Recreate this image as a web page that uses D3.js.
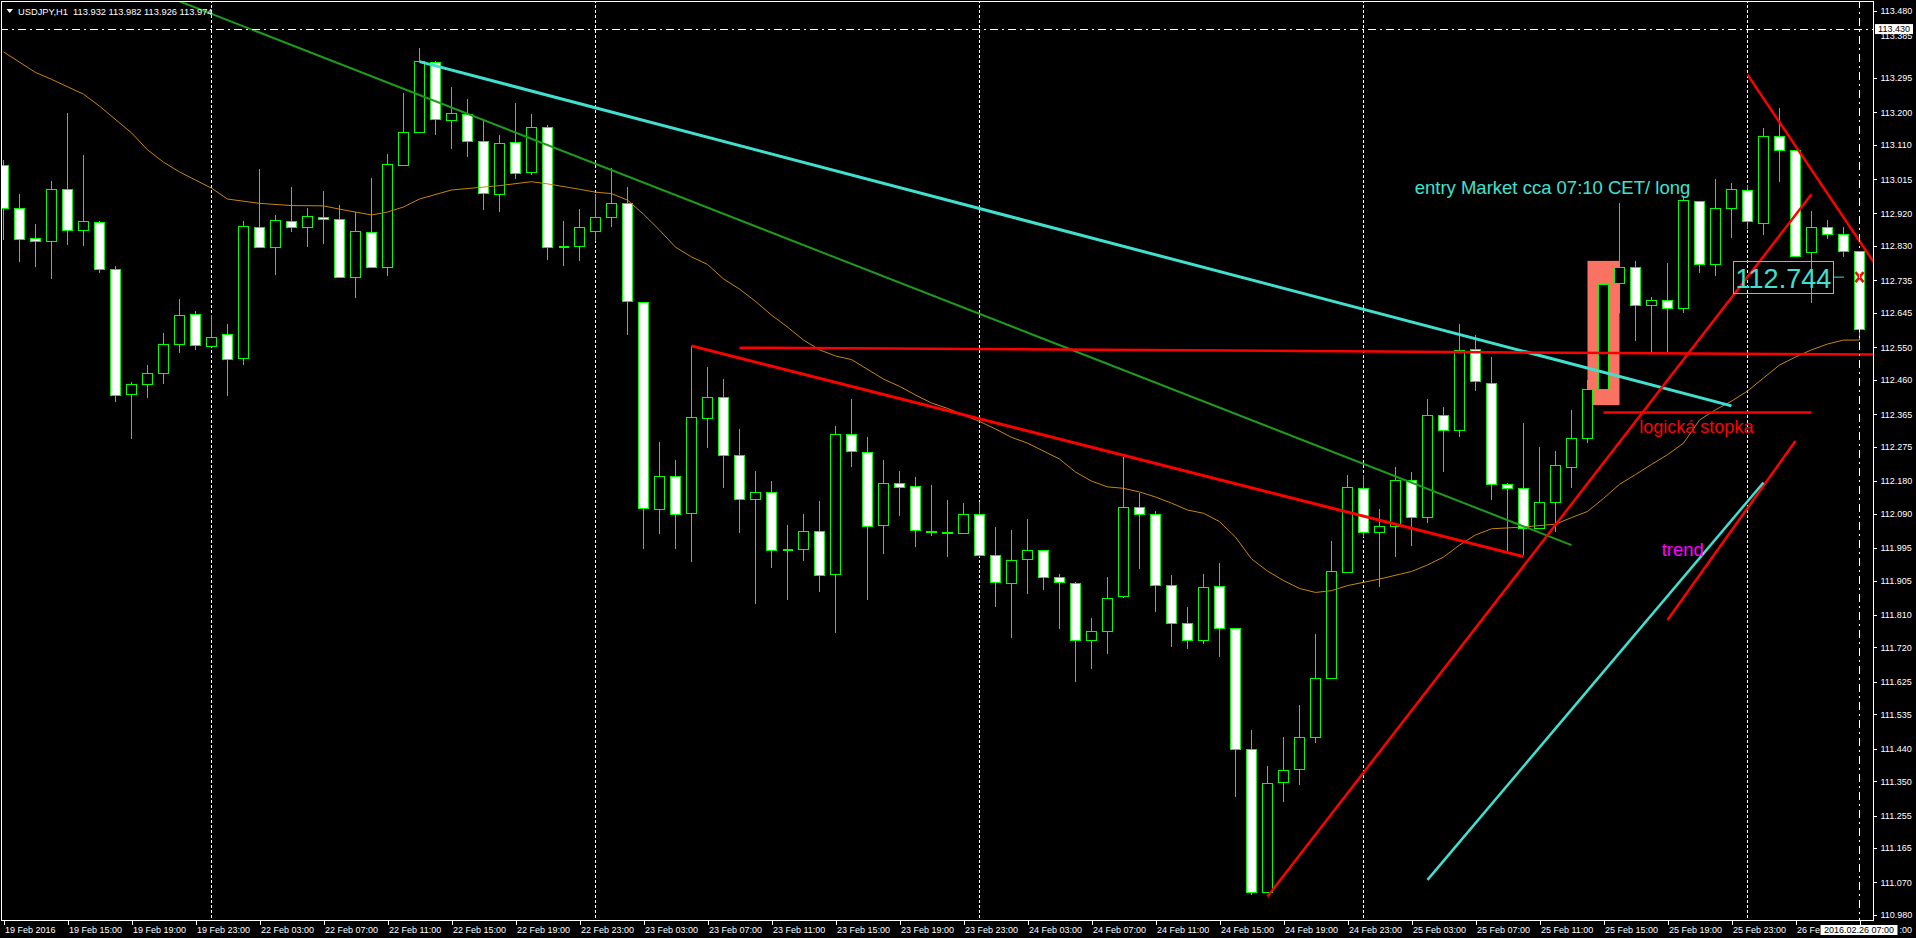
<!DOCTYPE html>
<html><head><meta charset="utf-8">
<script src="https://cdn.jsdelivr.net/npm/d3@7"></script>
<style>
html,body{margin:0;padding:0;background:#000;overflow:hidden}
svg{display:block}
text{font-family:"Liberation Sans",Arial,sans-serif}
</style></head><body>
<svg id="c" width="1916" height="938"></svg>
<script>
// ---- DATA (USDJPY H1, bar index 0 = 19 Feb 2016 11:00) ----
const openP=[113.054,112.934,112.851,112.843,112.987,112.874,112.896,112.767,112.420,112.448,
112.478,112.558,112.641,112.553,112.586,112.519,112.884,112.826,112.900,112.882,
112.911,112.906,112.745,112.868,112.773,113.055,113.145,113.340,113.178,113.194,
113.120,112.973,113.117,113.034,113.158,112.829,112.829,112.871,112.909,112.948,
112.674,112.104,112.193,112.091,112.354,112.413,112.251,112.130,112.149,111.993,
111.993,112.041,111.922,112.309,112.261,112.058,112.174,112.166,112.043,112.038,
112.036,112.088,111.975,111.897,111.964,111.989,111.914,111.897,111.740,111.765,
111.861,112.107,112.088,111.892,111.787,111.740,111.889,111.773,111.438,111.043,
111.347,111.383,111.472,111.636,111.929,112.160,112.038,112.055,112.182,112.080,
112.363,112.321,112.544,112.452,112.172,112.160,112.049,112.123,112.220,112.298,
112.434,112.727,112.771,112.666,112.680,112.660,112.955,112.779,112.934,112.984,
112.893,113.134,113.096,112.813,112.882,112.862,112.815];
const highP=[113.068,112.974,112.891,113.010,113.197,113.081,112.898,112.774,112.454,112.501,
112.590,112.684,112.650,112.638,112.614,112.898,113.043,112.916,112.993,112.936,
112.982,112.944,112.925,113.018,113.085,113.253,113.378,113.343,113.270,113.237,
113.179,113.136,113.226,113.195,113.164,112.899,112.932,112.975,113.045,112.992,
112.674,112.287,112.237,112.554,112.496,112.462,112.323,112.208,112.180,112.059,
112.089,112.125,112.332,112.407,112.302,112.237,112.207,112.191,112.169,112.128,
112.119,112.121,112.052,112.045,112.075,111.989,111.923,111.900,111.801,111.914,
112.247,112.146,112.096,111.919,111.831,111.922,111.953,111.773,111.492,111.392,
111.472,111.560,111.757,112.014,112.197,112.197,112.103,112.218,112.204,112.406,
112.386,112.614,112.584,112.522,112.174,112.340,112.273,112.263,112.377,112.460,
112.789,112.948,112.789,112.690,112.784,112.968,112.955,113.015,113.005,112.999,
113.157,113.213,113.096,112.927,112.902,112.884,112.815];
const lowP=[112.847,112.787,112.773,112.740,112.833,112.830,112.756,112.400,112.297,112.411,
112.448,112.533,112.543,112.550,112.416,112.502,112.826,112.751,112.870,112.828,
112.837,112.743,112.687,112.769,112.748,113.055,113.145,113.138,113.097,113.077,
112.930,112.925,113.016,113.027,112.791,112.776,112.790,112.843,112.884,112.583,
111.991,112.035,111.993,111.957,112.272,112.162,112.037,111.841,111.941,111.852,
111.960,111.874,111.761,112.220,111.852,111.979,112.084,111.997,112.028,111.969,
112.036,111.971,111.831,111.745,111.869,111.880,111.772,111.623,111.661,111.701,
111.858,111.938,111.817,111.720,111.717,111.729,111.694,111.305,111.034,111.040,
111.293,111.340,111.457,111.634,111.927,112.026,111.886,111.971,112.000,112.063,
112.206,112.301,112.430,112.128,111.987,111.976,112.049,112.040,112.160,112.286,
112.390,112.646,112.568,112.538,112.538,112.646,112.756,112.748,112.851,112.876,
112.861,113.008,112.801,112.672,112.850,112.801,112.570];
const closeP=[112.934,112.849,112.843,112.987,112.874,112.898,112.766,112.417,112.448,112.478,
112.558,112.638,112.555,112.578,112.517,112.886,112.828,112.901,112.882,112.912,
112.906,112.745,112.871,112.773,113.056,113.145,113.341,113.180,113.197,113.120,
112.976,113.114,113.031,113.158,112.826,112.829,112.882,112.909,112.948,112.677,
112.105,112.193,112.088,112.356,112.412,112.251,112.130,112.149,111.989,111.992,
112.041,111.919,112.309,112.263,112.055,112.174,112.163,112.045,112.039,112.037,
112.088,111.975,111.900,111.961,111.989,111.914,111.900,111.740,111.765,111.858,
112.107,112.088,111.892,111.787,111.740,111.886,111.773,111.438,111.043,111.344,
111.382,111.472,111.635,111.932,112.163,112.038,112.055,112.182,112.080,112.363,
112.321,112.543,112.457,112.172,112.160,112.049,112.123,112.224,112.298,112.436,
112.724,112.771,112.666,112.680,112.660,112.957,112.779,112.934,112.987,112.899,
113.134,113.096,112.803,112.882,112.862,112.815,112.600];

// moving average (bar index, price)
const maIdx=[0,2,3,5,6,8,9,10,11,13,14,16,18,20,21,23,24,25,26,28,30,31,33,34,36,37,38,39,40,41,42,43,44,45,46,47,48,49,50,51,52,53,55,56,57,58,59,60,61,62,63,64,66,67,68,69,70,71,72,73,74,75,76,77,78,79,80,81,82,83,84,86,88,89,90,91,92,93,95,97,98,99,100,101,102,103,104,105,106,107,108,109,110,111,112,113,114,115,116];
const maVal=[113.367,113.310,113.291,113.250,113.217,113.143,113.096,113.062,113.035,112.990,112.960,112.948,112.942,112.941,112.932,112.916,112.924,112.938,112.960,112.985,112.993,112.997,113.008,113.002,112.987,112.979,112.975,112.957,112.918,112.874,112.827,112.800,112.779,112.739,112.711,112.677,112.639,112.606,112.570,112.543,112.526,112.516,112.462,112.442,112.418,112.396,112.381,112.363,112.345,112.324,112.301,112.285,112.241,112.205,112.180,112.164,112.160,112.150,112.136,112.119,112.100,112.091,112.068,112.025,111.965,111.931,111.905,111.883,111.872,111.877,111.891,111.909,111.930,111.948,111.970,112.003,112.031,112.048,112.053,112.061,112.079,112.096,112.132,112.171,112.198,112.226,112.253,112.285,112.349,112.377,112.401,112.429,112.465,112.501,112.523,112.543,112.559,112.570,112.570];

const priceTicks=[113.480,113.385,113.295,113.200,113.110,113.015,112.920,112.830,112.735,112.645,112.550,112.460,112.365,112.275,112.180,112.090,111.995,111.905,111.810,111.720,111.625,111.535,111.440,111.350,111.255,111.165,111.070,110.980];
const timeTickIdx=[0,4,8,12,16,20,24,28,32,36,40,44,48,52,56,60,64,68,72,76,80,84,88,92,96,100,104,108,112,116];
const timeLabels=["19 Feb 2016","19 Feb 15:00","19 Feb 19:00","19 Feb 23:00","22 Feb 03:00","22 Feb 07:00","22 Feb 11:00","22 Feb 15:00","22 Feb 19:00","22 Feb 23:00","23 Feb 03:00","23 Feb 07:00","23 Feb 11:00","23 Feb 15:00","23 Feb 19:00","23 Feb 23:00","24 Feb 03:00","24 Feb 07:00","24 Feb 11:00","24 Feb 15:00","24 Feb 19:00","24 Feb 23:00","25 Feb 03:00","25 Feb 07:00","25 Feb 11:00","25 Feb 15:00","25 Feb 19:00","25 Feb 23:00","26 Fe",""];
const separatorIdx=[13,37,61,85,109];

// drawn objects: [barIndex, price] end points
const greenLine=[[10,113.524],[98,112.003]];
const cyanDownLine=[[26,113.340],[108,112.388]];
const redLevelLine=[[46,112.549],[116.9,112.530]];
const redDownLine=[[43,112.554],[95,111.971]];
const redUpLine=[[79,111.031],[113,112.973]];
const redRightDownLine=[[109,113.304],[117,112.778]];
const redShortUpLine=[[104,111.796],[112,112.291]];
const cyanUpLine=[[89,111.077],[110,112.176]];
const stopLine=[[100,112.370],[113,112.370]];
const entryRect=[[99,112.789],[101,112.390]];
const entryNote=[88.2,112.974,"entry Market cca 07:10 CET/ long"];
const stopNote=[102.24,112.314,"logická stopka"];
const trendNote=[103.64,111.973,"trend"];
const priceLabel=[108.1,114.4,112.744,"112.744"];
const crossPrice=113.430, crossIdx=116, crossDate="2016.02.26 07:00", crossDateTail=":00";
const header="USDJPY,H1  113.932 113.982 113.926 113.974";

// ---- DRAW ----
const svg=d3.select('#c');
svg.append('rect').attr('width',1916).attr('height',938).attr('fill','#000');
const x=d3.scaleLinear().domain([0,116]).range([3.5,1859.5]);
const y=d3.scaleLinear().domain([110.980,113.480]).range([915,11]);

svg.append('defs').append('clipPath').attr('id','plot').append('rect')
  .attr('x',2).attr('y',2).attr('width',1871).attr('height',918);
const plot=svg.append('g').attr('clip-path','url(#plot)');

plot.selectAll('line.sep').data(separatorIdx).join('line').attr('class','sep')
  .attr('x1',d=>x(d)).attr('x2',d=>x(d)).attr('y1',0).attr('y2',920)
  .attr('stroke','#fff').attr('stroke-dasharray','3,2').attr('shape-rendering','crispEdges');

plot.append('rect')
  .attr('x',x(entryRect[0][0])).attr('y',y(entryRect[0][1]))
  .attr('width',x(entryRect[1][0])-x(entryRect[0][0]))
  .attr('height',y(entryRect[1][1])-y(entryRect[0][1]))
  .attr('fill','#f97262');

const cg=plot.append('g').attr('shape-rendering','crispEdges');
const bars=d3.range(openP.length);
cg.selectAll('line.w').data(bars).join('line').attr('class','w')
  .attr('x1',i=>x(i)).attr('x2',i=>x(i))
  .attr('y1',i=>Math.round(y(highP[i]))).attr('y2',i=>Math.round(y(lowP[i])))
  .attr('stroke','#00ff00');
bars.forEach(i=>{
  const o=openP[i],c=closeP[i];
  const t=Math.round(y(Math.max(o,c)))+0.5, b=Math.round(y(Math.min(o,c)))+0.5;
  if(b-t<1){
    cg.append('line').attr('x1',x(i)-5).attr('x2',x(i)+5).attr('y1',t).attr('y2',t)
      .attr('stroke','#00ff00').attr('stroke-width',2);
  } else {
    cg.append('rect').attr('x',x(i)-5).attr('y',t).attr('width',10).attr('height',b-t)
      .attr('fill',o>c?'#fff':'#000').attr('stroke','#00ff00');
  }
});

plot.append('path').datum(maIdx.map((d,k)=>[d,maVal[k]]))
  .attr('d',d3.line().x(d=>x(d[0])).y(d=>y(d[1])))
  .attr('fill','none').attr('stroke','#c8860b').attr('stroke-width',1);

const lines=[
  [greenLine,'#1f9a1f',2],
  [cyanDownLine,'#40e0d0',3],
  [redLevelLine,'#ff0000',2.5],
  [redDownLine,'#ff0000',3],
  [redUpLine,'#ff0000',2.5],
  [redRightDownLine,'#ff0000',2.5],
  [redShortUpLine,'#ff0000',2.5],
  [cyanUpLine,'#40e0d0',2.5],
  [stopLine,'#ff0000',2.5]
];
lines.forEach(([pts,col,w])=>{
  plot.append('line').attr('x1',x(pts[0][0])).attr('y1',y(pts[0][1]))
    .attr('x2',x(pts[1][0])).attr('y2',y(pts[1][1]))
    .attr('stroke',col).attr('stroke-width',w);
});

plot.append('text').attr('x',x(entryNote[0])).attr('y',y(entryNote[1]))
  .attr('fill','#40e0d0').attr('font-size','18.5px').text(entryNote[2]);
plot.append('text').attr('x',x(stopNote[0])).attr('y',y(stopNote[1]))
  .attr('fill','#ff0000').attr('font-size','18px').text(stopNote[2]);
plot.append('text').attr('x',x(trendNote[0])).attr('y',y(trendNote[1]))
  .attr('fill','#ff00ff').attr('font-size','18.5px').text(trendNote[2]);

// price label object 112.744
const pl=priceLabel;
const plY=y(pl[2]);
plot.append('rect').attr('x',x(pl[0])).attr('y',plY-15.5).attr('width',x(pl[1])-x(pl[0])).attr('height',32)
  .attr('fill','none').attr('stroke','#40e0d0').attr('shape-rendering','crispEdges');
plot.append('text').attr('x',x(pl[0])+2.5).attr('y',plY+11).attr('fill','#40e0d0')
  .attr('font-size','27px').text(pl[3]);
plot.append('line').attr('x1',x(pl[1])).attr('x2',x(pl[1])+10).attr('y1',plY).attr('y2',plY)
  .attr('stroke','#40e0d0');
const mx=x(crossIdx), my=plY;
plot.append('path').attr('d',`M${mx-4},${my-5}L${mx+4},${my+5}M${mx+4},${my-5}L${mx-4},${my+5}`)
  .attr('stroke','#ff0000').attr('stroke-width',2.5);

// crosshair
plot.append('line').attr('x1',0).attr('x2',1873).attr('y1',Math.round(y(crossPrice))+0.5).attr('y2',Math.round(y(crossPrice))+0.5)
  .attr('stroke','#fff').attr('stroke-dasharray','8,4,2,4').attr('shape-rendering','crispEdges');
plot.append('line').attr('x1',x(crossIdx)).attr('x2',x(crossIdx)).attr('y1',0).attr('y2',920)
  .attr('stroke','#fff').attr('stroke-dasharray','8,4,2,4').attr('shape-rendering','crispEdges');

// frame
svg.append('path').attr('d','M1.5,920.5V1.5H1873.5V920.5H1.5').attr('fill','none')
  .attr('stroke','#fff').attr('shape-rendering','crispEdges');

// axes
const ra=svg.append('g').attr('transform','translate(1873.5,0)')
  .call(d3.axisRight(y).tickValues(priceTicks).tickSize(3).tickPadding(4).tickFormat(d3.format('.3f')));
ra.select('.domain').remove();
ra.selectAll('line').attr('stroke','#fff').attr('shape-rendering','crispEdges');
ra.selectAll('text').attr('fill','#fff').attr('font-size','9px').attr('font-family','"Liberation Sans",Arial,sans-serif');
ra.selectAll('.tick').filter(d=>d===113.385).attr('transform','translate(0,36.5)').select('line').remove();

const ba=svg.append('g').attr('transform','translate(0,920.5)')
  .call(d3.axisBottom(x).tickValues(timeTickIdx).tickSize(4).tickFormat((d,i)=>timeLabels[i]));
ba.select('.domain').remove();
ba.selectAll('line').attr('stroke','#fff').attr('shape-rendering','crispEdges');
ba.selectAll('text').attr('fill','#fff').attr('font-size','9px').attr('font-family','"Liberation Sans",Arial,sans-serif')
  .attr('text-anchor','start').attr('x',1).attr('y',12.5).attr('dy',0);

// crosshair axis labels
const cpy=y(crossPrice);
svg.append('rect').attr('x',1875).attr('y',cpy-5).attr('width',38).attr('height',10).attr('fill','#fff');
svg.append('text').attr('x',1894).attr('y',cpy+3.3).attr('text-anchor','middle').attr('font-size','9px')
  .attr('fill','#000').text(d3.format('.3f')(crossPrice));
svg.append('rect').attr('x',x(crossIdx)-39).attr('y',925).attr('width',77).attr('height',10).attr('fill','#fff');
svg.append('text').attr('x',x(crossIdx)-0.5).attr('y',933).attr('text-anchor','middle').attr('font-size','9px')
  .attr('fill','#000').text(crossDate);
svg.append('text').attr('x',x(crossIdx)+40).attr('y',933).attr('font-size','9px')
  .attr('fill','#fff').text(crossDateTail);

// header
svg.append('path').attr('d','M6.5,9L13,9L9.75,13Z').attr('fill','#fff');
svg.append('text').attr('x',18).attr('y',14.5).attr('fill','#fff').attr('font-size','9.3px')
  .style('white-space','pre').text(header);
</script>
</body></html>
